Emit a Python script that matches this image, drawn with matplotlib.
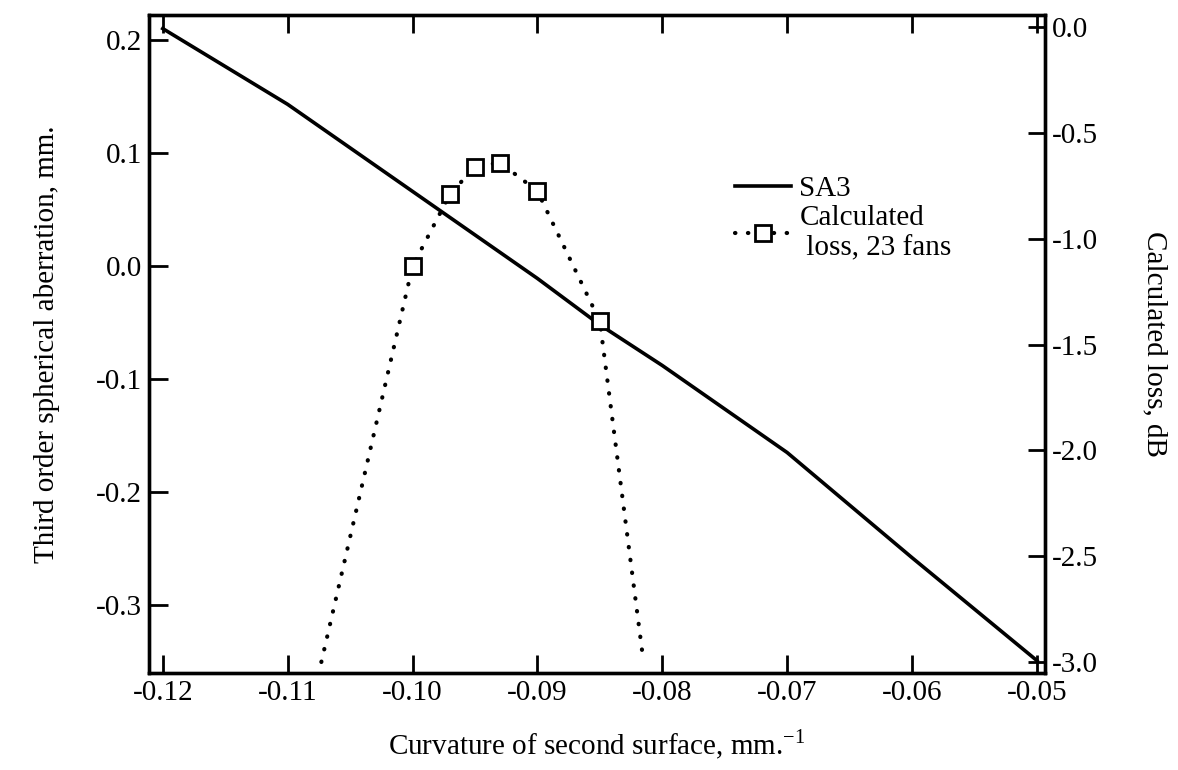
import matplotlib.pyplot as plt

plt.rcParams['font.family'] = ['Liberation Serif', 'DejaVu Serif']

# SA3 (left axis)
curv_sa3 = [-0.12, -0.11, -0.10, -0.09, -0.085, -0.08, -0.07, -0.06, -0.05]
sa3 = [0.210, 0.143, 0.066, -0.011, -0.052, -0.088, -0.165, -0.258, -0.349]

# Calculated loss (right axis)
curv_loss = [-0.1073, -0.100, -0.097, -0.095, -0.093, -0.090, -0.085, -0.0815]
loss = [-3.0, -1.13, -0.79, -0.66, -0.64, -0.775, -1.39, -3.0]
marked = [1, 2, 3, 4, 5, 6]

x_ticks = [-0.12, -0.11, -0.10, -0.09, -0.08, -0.07, -0.06, -0.05]
x_labels = ['-0.12', '-0.11', '-0.10', '-0.09', '-0.08', '-0.07', '-0.06', '-0.05']
left_ticks = [-0.3, -0.2, -0.1, 0.0, 0.1, 0.2]
left_labels = ['-0.3', '-0.2', '-0.1', '0.0', '0.1', '0.2']
right_ticks = [-3.0, -2.5, -2.0, -1.5, -1.0, -0.5, 0.0]
right_labels = ['-3.0', '-2.5', '-2.0', '-1.5', '-1.0', '-0.5', '0.0']

fs = 21

fig = plt.figure(figsize=(11.78, 7.70), dpi=100)
ax = fig.add_axes([0.1265, 0.126, 0.7605, 0.8545])
ax2 = ax.twinx()

l1, = ax.plot(curv_sa3, sa3, color='black', lw=2.6, label='SA3')
l2, = ax2.plot(curv_loss, loss, color='black', lw=3, linestyle=(0, (0.1, 3)),
               dash_capstyle='round',
               marker='s', markersize=11, markerfacecolor='white',
               markeredgecolor='black', markeredgewidth=2, markevery=marked,
               label='Calculated\n loss, 23 fans')

ax.set_xlim(-0.1211, -0.04936)
ax.set_ylim(-0.360, 0.222)
ax2.set_ylim(-3.052, 0.057)

ax.set_xticks(x_ticks)
ax.set_xticklabels(x_labels)
ax.set_yticks(left_ticks)
ax.set_yticklabels(left_labels)
ax2.set_yticks(right_ticks)
ax2.set_yticklabels(right_labels)

ax.tick_params(axis='x', direction='in', length=13, width=2, top=True,
               labelsize=fs, pad=5)
ax.tick_params(axis='y', direction='in', length=14, width=2, labelsize=fs, pad=5)
ax2.tick_params(axis='y', direction='in', length=12, width=2, labelsize=fs, pad=5)

for a in (ax, ax2):
    for s in a.spines.values():
        s.set_linewidth(2.4)

ax.set_xlabel('Curvature of second surface, mm.$^{\\mathregular{-1}}$',
              fontsize=fs, labelpad=16)
ax.set_ylabel('Third order spherical aberration, mm.', fontsize=fs, labelpad=26)
ax2.set_ylabel('Calculated loss, dB', fontsize=fs, rotation=-90, labelpad=50)

leg = ax.legend(handles=[l1, l2], loc='upper left', bbox_to_anchor=(0.638, 0.778),
                frameon=False, fontsize=fs, handlelength=1.9, handletextpad=0.3,
                labelspacing=0.1, borderpad=0)

fig.savefig('out.png', dpi=100)
